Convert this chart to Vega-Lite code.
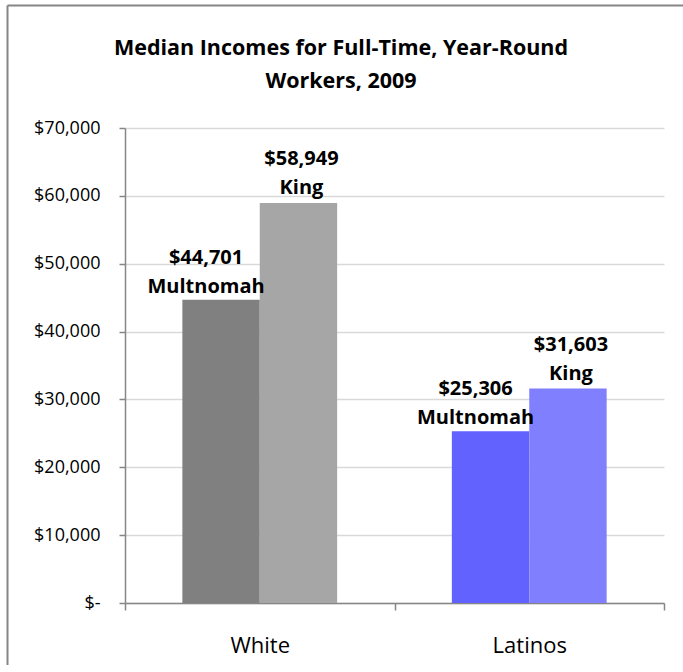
{
  "$schema": "https://vega.github.io/schema/vega-lite/v6.json",
  "width": 676,
  "height": 660,
  "autosize": "none",
  "padding": {"left": 7, "top": 5, "right": 0, "bottom": 0},
  "background": "white",
  "view": {"stroke": null},
  "title": {
    "text": ["Median Incomes for Full-Time, Year-Round", "Workers, 2009"],
    "font": "Open Sans",
    "fontSize": 21.5,
    "fontWeight": "bold",
    "color": "#000000",
    "lineHeight": 33,
    "anchor": "middle",
    "frame": "group",
    "dx": -4,
    "offset": -87
  },
  "data": {
    "values": [
      {"group": "White", "county": "Multnomah", "series": "White Multnomah", "value": 44701, "label": "$44,701\nMultnomah"},
      {"group": "White", "county": "King", "series": "White King", "value": 58949, "label": "$58,949\nKing"},
      {"group": "Latinos", "county": "Multnomah", "series": "Latinos Multnomah", "value": 25306, "label": "$25,306\nMultnomah"},
      {"group": "Latinos", "county": "King", "series": "Latinos King", "value": 31603, "label": "$31,603\nKing"}
    ]
  },
  "layer": [
    {
      "encoding": {
        "x": {
          "field": "group",
          "type": "nominal",
          "sort": ["White", "Latinos"],
          "scale": {"range": [118, 657], "paddingInner": 0, "paddingOuter": 0},
          "axis": {
            "title": null,
            "orient": "bottom",
            "offset": -62,
            "labelAngle": 0,
            "labelFont": "Open Sans",
            "labelFontSize": 22,
            "labelColor": "#000000",
            "labelPadding": 25,
            "tickBand": "extent",
            "tickSize": 7,
            "tickColor": "#868686",
            "tickWidth": 1.5,
            "domainColor": "#868686",
            "domainWidth": 1.5,
            "grid": false
          }
        },
        "xOffset": {"field": "county", "type": "nominal", "sort": ["Multnomah", "King"], "scale": {"paddingInner": 0, "paddingOuter": 0.741}},
        "y": {
          "field": "value",
          "type": "quantitative",
          "scale": {"domain": [0, 70000], "range": [598, 123], "nice": false},
          "axis": {
            "title": null,
            "orient": "left",
            "offset": -118,
            "values": [0, 10000, 20000, 30000, 40000, 50000, 60000, 70000],
            "labelExpr": "datum.value == 0 ? '$-\u00a0\u00a0' : '$' + format(datum.value, ',')",
            "labelFont": "Open Sans",
            "labelFontSize": 18,
            "labelColor": "#000000",
            "labelPadding": 19,
            "tickSize": 6,
            "tickColor": "#868686",
            "tickWidth": 1.5,
            "domainColor": "#868686",
            "domainWidth": 1.5,
            "grid": true,
            "gridColor": "#d9d9d9",
            "gridWidth": 1.5
          }
        }
      },
      "layer": [
        {
          "mark": {"type": "bar"},
          "encoding": {
            "color": {
              "field": "series",
              "type": "nominal",
              "scale": {
                "domain": ["White Multnomah", "White King", "Latinos Multnomah", "Latinos King"],
                "range": ["#808080", "#a6a6a6", "#6262ff", "#8080ff"]
              },
              "legend": null
            }
          }
        },
        {
          "transform": [{"filter": "datum.county == 'Multnomah'"}],
          "mark": {"type": "text", "baseline": "alphabetic", "dy": -36, "dx": -15, "lineBreak": "\n", "lineHeight": 29, "font": "Open Sans", "fontSize": 20, "fontWeight": "bold", "color": "#000000"},
          "encoding": {"text": {"field": "label"}}
        },
        {
          "transform": [{"filter": "datum.county == 'King'"}],
          "mark": {"type": "text", "baseline": "alphabetic", "dy": -38, "dx": 3, "lineBreak": "\n", "lineHeight": 29, "font": "Open Sans", "fontSize": 20, "fontWeight": "bold", "color": "#000000"},
          "encoding": {"text": {"field": "label"}}
        }
      ]
    },
    {
      "mark": {"type": "point", "opacity": 0},
      "encoding": {
        "x": {
          "field": "value",
          "type": "quantitative",
          "scale": {"domain": [0, 70000], "range": [0, 676], "nice": false},
          "axis": {
            "orient": "top",
            "title": null,
            "values": [0],
            "labels": false,
            "ticks": false,
            "domain": true,
            "domainColor": "#868686",
            "domainWidth": 2,
            "grid": true,
            "gridColor": "#868686",
            "gridWidth": 2
          }
        },
        "y": {
          "field": "value",
          "type": "quantitative",
          "scale": {"domain": [0, 70000], "range": [660, 0], "nice": false},
          "axis": null
        }
      }
    }
  ],
  "resolve": {
    "scale": {"x": "independent", "y": "independent"},
    "axis": {"x": "independent", "y": "independent"}
  },
  "config": {
    "bar": {"stroke": null}
  }
}
